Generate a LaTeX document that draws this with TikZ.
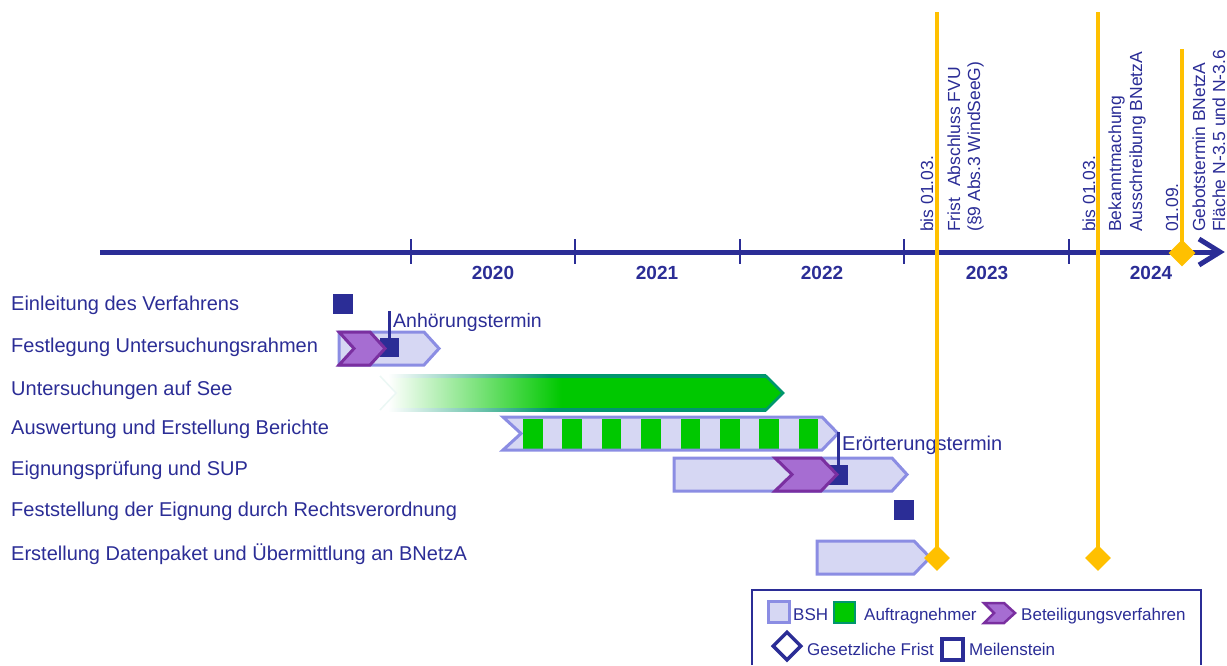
\documentclass[tikz,border=0pt]{standalone}
\usepackage{fontspec}
\setmainfont{Liberation Sans}
\usetikzlibrary{shapes.geometric}
\definecolor{dblue}{RGB}{43,45,150}
\definecolor{bshfill}{RGB}{214,215,243}
\definecolor{bshline}{RGB}{139,141,227}
\definecolor{purfill}{RGB}{166,109,210}
\definecolor{purline}{RGB}{122,47,160}
\definecolor{grn}{RGB}{0,200,0}
\definecolor{grnline}{RGB}{0,150,110}
\definecolor{ylw}{RGB}{255,192,0}
\pgfdeclarehorizontalshading{gbarshade}{100bp}{color(0bp)=(white); color(26bp)=(white); color(47.5bp)=(grn); color(100bp)=(grn)}
\pgfdeclarehorizontalshading{glineshade}{100bp}{color(0bp)=(white); color(26bp)=(white); color(47bp)=(grnline); color(100bp)=(grnline)}
\begin{document}
\begin{tikzpicture}[x=1pt,y=-1pt,
  lab/.style={font=\fontsize{20}{24}\selectfont, text=dblue, anchor=base west, inner sep=0pt},
  leg/.style={font=\fontsize{17}{20}\selectfont, text=dblue, anchor=base west, inner sep=0pt},
  yearlab/.style={font=\fontsize{19}{22}\selectfont\bfseries, text=dblue, inner sep=0pt},
  rot/.style={font=\fontsize{17.5}{21}\selectfont, text=dblue, rotate=90, anchor=base west, inner sep=0pt},
  bsh/.style={fill=bshfill, draw=bshline, line width=3pt},
  part/.style={fill=purfill, draw=purline, line width=3pt},
  mile/.style={fill=dblue, minimum size=20pt, inner sep=0pt},
  ylwline/.style={draw=ylw, line width=4pt},
  ydiam/.style={diamond, fill=ylw, minimum size=27pt, inner sep=0pt},
  dline/.style={draw=dblue, line width=3pt},
  tickmark/.style={draw=dblue, line width=2.5pt}
]
\useasboundingbox (0,0) rectangle (1227,665);

% ---- axis
\coordinate (ax0) at (100,252);
\coordinate (ax1) at (1220,252);
\draw[dblue, line width=5pt] (ax0) -- (ax1);
\coordinate (ah1) at (1199,239);
\coordinate (ah2) at (1199,265);
\draw[dblue, line width=5pt, line join=miter] (ah1) -- (ax1) -- (ah2);
\foreach \tx in {411,575,740,904,1069}{
  \draw[tickmark] (\tx,239) -- (\tx,264);
}
\node[yearlab] (y20) at (493,273) {2020};
\node[yearlab] (y21) at (657,273) {2021};
\node[yearlab] (y22) at (822,273) {2022};
\node[yearlab] (y23) at (987,273) {2023};
\node[yearlab] (y24) at (1151,273) {2024};

% ---- rotated labels
\node[rot] (r1) at (933,232) {bis 01.03.};
\node[rot] (r2) at (960,232) {Frist\hspace{0.35em} Abschluss FVU};
\node[rot] (r3) at (980,232) {(§9 Abs.3 WindSeeG)};
\node[rot] (r4) at (1095,232) {bis 01.03.};
\node[rot] (r5) at (1121,232) {Bekanntmachung};
\node[rot] (r6) at (1142,232) {Ausschreibung BNetzA};
\node[rot] (r7) at (1178,232) {01.09.};
\node[rot] (r8) at (1205,232) {Gebotstermin BNetzA};
\node[rot] (r9) at (1225,232) {Fläche N-3.5 und N-3.6};

% ---- row labels
\node[lab] (l1) at (11,310.5) {Einleitung des Verfahrens};
\node[lab] (l2) at (11,352) {Festlegung Untersuchungsrahmen};
\node[lab] (l3) at (11,395) {Untersuchungen auf See};
\node[lab] (l4) at (11,434) {Auswertung und Erstellung Berichte};
\node[lab] (l5) at (11,475) {Eignungsprüfung und SUP};
\node[lab] (l6) at (11,516.5) {Feststellung der Eignung durch Rechtsverordnung};
\node[lab] (l7) at (11,560) {Erstellung Datenpaket und Übermittlung an BNetzA};

% ---- row 1
\node[mile] (m1) at (343,304) {};

% ---- row 2
\draw[bsh] (339,332) -- (424,332) -- (439,348.5) -- (424,365) -- (339,365) -- cycle;
\node[mile, minimum size=19pt] (m2) at (389,347.5) {};
\draw[part] (339,332) -- (370,332) -- (385,348.5) -- (370,365) -- (339,365) -- (354,348.5) -- cycle;
\coordinate (a1) at (389,311);
\draw[dline] (m2.north) -- (a1);
\node[lab, font=\fontsize{19.5}{23}\selectfont] (anh) at (393,327) {Anhörungstermin};

% ---- row 3 (green gradient bar)
\shade[shading=gbarshade] (380,376) -- (766,376) -- (783,393) -- (766,410) -- (380,410) -- (396,393) -- cycle;
\draw[grnline, line width=2.5pt, line join=miter] (740,376) -- (766,376) -- (783,393) -- (766,410) -- (740,410);
\shade[shading=glineshade] (380,374.75) rectangle (766,377.25);
\shade[shading=glineshade] (380,408.75) rectangle (766,411.25);
\draw[grnline!8, line width=1.5pt] (380,376) -- (396,393) -- (380,410);

% ---- row 4
\fill[bshfill] (503,417) -- (822,417) -- (838,433.5) -- (822,450) -- (503,450) -- (521,433.5) -- cycle;
\foreach \i in {0,...,7}{
  \fill[grn] ({523+39.4*\i},418.5) rectangle ({542.5+39.4*\i},448.5);
}
\draw[bshline, line width=3pt] (503,417) -- (822,417) -- (838,433.5) -- (822,450) -- (503,450) -- (521,433.5) -- cycle;

% ---- row 5
\draw[bsh] (674,458) -- (892,458) -- (907,474.5) -- (892,491) -- (674,491) -- cycle;
\node[mile] (m3) at (838,475) {};
\draw[part] (775,458) -- (821,458) -- (837,474.5) -- (821,491) -- (775,491) -- (792,474.5) -- cycle;
\coordinate (a2) at (838,432);
\draw[dline] (m3.north) -- (a2);
\node[lab] (eroe) at (842,450) {Erörterungstermin};

% ---- row 6
\node[mile] (m4) at (904,509.5) {};

% ---- row 7
\draw[bsh] (817,541) -- (914,541) -- (930,557.5) -- (914,574) -- (817,574) -- cycle;

% ---- yellow deadlines
\coordinate (yt1) at (937,12);
\coordinate (yb1) at (937,558);
\coordinate (yt2) at (1098,12);
\coordinate (yb2) at (1098,558);
\coordinate (yt3) at (1182,49);
\coordinate (yb3) at (1182,253);
\draw[ylwline] (yt1) -- (yb1);
\draw[ylwline] (yt2) -- (yb2);
\draw[ylwline] (yt3) -- (yb3);
\node[ydiam, minimum size=26pt] (d1) at (yb1) {};
\node[ydiam, minimum size=26pt] (d2) at (yb2) {};
\node[ydiam] (d3) at (yb3) {};

% ---- legend
\draw[dblue, line width=1.2pt] (752,665) -- (752,590) -- (1201,590) -- (1201,665);
\draw[bsh] (768,601) rectangle (789,622);
\node[leg] (lg1) at (793,620) {BSH};
\draw[fill=grn, draw=grnline, line width=2.5pt] (834,602) rectangle (855,623);
\node[leg] (lg2) at (864,620) {Auftragnehmer};
\draw[part, line width=2.5pt] (984,603) -- (1004,603) -- (1015,613) -- (1004,623) -- (984,623) -- (994,613) -- cycle;
\node[leg] (lg3) at (1021,620) {Beteiligungsverfahren};
\node[diamond, draw=dblue, fill=white, line width=3.5pt, minimum size=29pt, inner sep=0pt] (lgd) at (787,646) {};
\node[leg] (lg4) at (807,655) {Gesetzliche Frist};
\draw[dblue, line width=3.5pt] (942,639) rectangle (963,660);
\node[leg] (lg5) at (969,655) {Meilenstein};
\end{tikzpicture}
\end{document}
